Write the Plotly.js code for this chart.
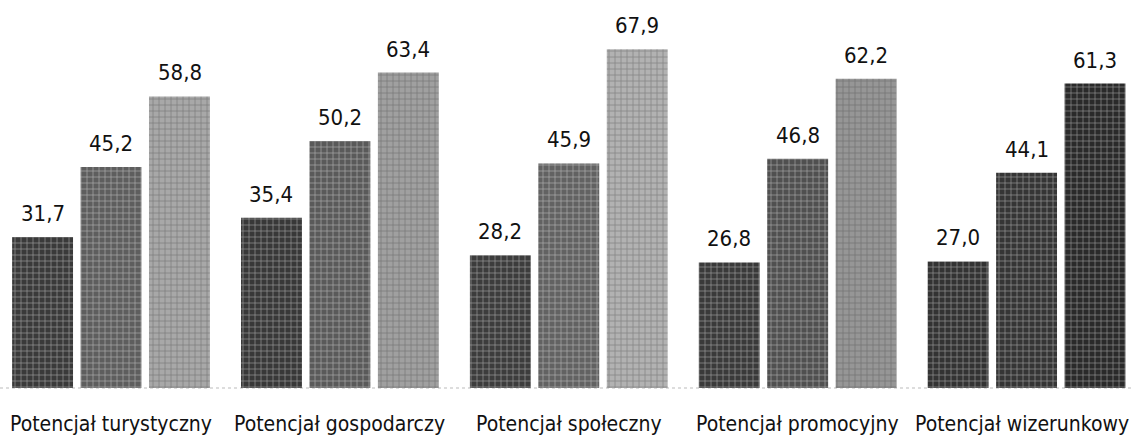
<!DOCTYPE html>
<html>
<head>
<meta charset="utf-8">
<script src="https://cdn.plot.ly/plotly-3.0.1.min.js"></script>
<style>html,body{margin:0;padding:0;background:#fff}#chart{width:1133px;height:447px}</style>
</head>
<body>
<div id="chart"></div>
<script>
const categories = ["Potencjał turystyczny", "Potencjał gospodarczy", "Potencjał społeczny", "Potencjał promocyjny", "Potencjał wizerunkowy"];
const series1 = [31.7, 35.4, 28.2, 26.8, 27.0];
const series2 = [45.2, 50.2, 45.9, 46.8, 44.1];
const series3 = [58.8, 63.4, 67.9, 62.2, 61.3];

const seriesList = [series1, series2, series3];
const colors = [
  ["#3a3a3a", "#383838", "#3c3c3c", "#3a3a3a", "#333333"],
  ["#5e5e5e", "#5a5a5a", "#626262", "#505050", "#353535"],
  ["#a8a8a8", "#a0a0a0", "#b2b2b2", "#969696", "#2a2a2a"]
];
const FONT = "'DejaVu Sans Condensed', 'Liberation Sans Narrow', sans-serif";
const fmt = v => v.toFixed(1).replace(".", ",");
const xs = categories.map((c, i) => i);

const traces = seriesList.map((s, j) => ({
  type: "bar",
  x: xs,
  y: s,
  marker: {
    color: colors[j],
    line: {width: 0},
    pattern: {shape: "+", size: 6, solidity: 0.2, fgcolor: "#ffffff", fgopacity: 0.5, fillmode: "overlay"}
  },
  hoverinfo: "skip",
  showlegend: false
}));

const annotations = [];
seriesList.forEach((s, j) => {
  s.forEach((v, i) => {
    annotations.push({
      x: i, y: v, xref: "x", yref: "y",
      text: fmt(v), showarrow: false,
      yanchor: "bottom", yshift: 9, xshift: (j - 1) * 68.5,
      font: {family: FONT, size: 22, color: "#111"}
    });
  });
});
categories.forEach((c, i) => {
  const last = i === categories.length - 1;
  annotations.push({
    x: last ? 1 : i, xref: last ? "paper" : "x",
    y: 0, yref: "paper", yanchor: "top", xanchor: last ? "right" : "center",
    xshift: last ? -2 : 0, yshift: -22,
    text: c, showarrow: false,
    font: {family: FONT, size: 21, color: "#111"}
  });
});

const layout = {
  width: 1133, height: 447,
  margin: {l: 0, r: 0, t: 0, b: 59},
  paper_bgcolor: "#fff", plot_bgcolor: "#fff",
  barmode: "group", bargap: 0.103, bargroupgap: 0.11,
  xaxis: {
    range: [-0.485, 4.465],
    showticklabels: false,
    showgrid: false, zeroline: false, showline: false, ticks: ""
  },
  yaxis: {range: [2.6, 77.4], visible: false, showgrid: false, zeroline: false},
  shapes: [{type: "line", xref: "paper", yref: "paper", x0: 0, x1: 1, y0: 0, y1: 0,
            line: {color: "#bbbbbb", width: 1, dash: "dot"}, layer: "below"}],
  annotations: annotations
};

Plotly.newPlot("chart", traces, layout, {displayModeBar: false, staticPlot: true});
</script>
</body>
</html>
